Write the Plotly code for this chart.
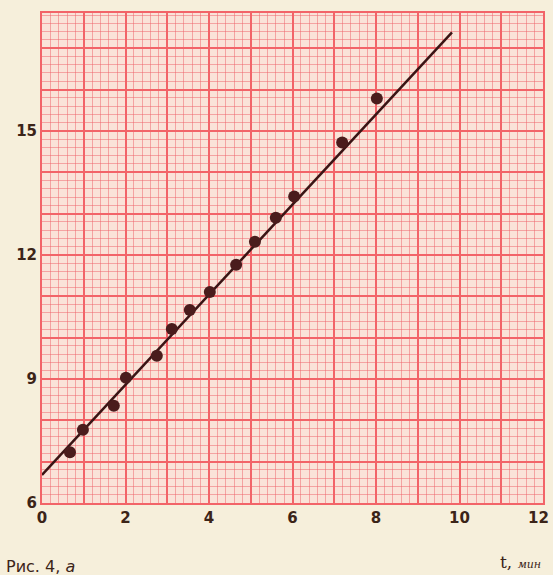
import plotly.graph_objects as go

# data
t_min = [0.67, 0.98, 1.72, 2.01, 2.75, 3.11, 3.54, 4.02, 4.65, 5.10, 5.60, 6.04, 7.19, 8.02]
y_val = [7.23, 7.77, 8.35, 9.03, 9.56, 10.21, 10.67, 11.10, 11.76, 12.32, 12.90, 13.41, 14.72, 15.78]
fit_t = [0.0, 9.82]
fit_y = [6.68, 17.38]

x_ticks = [0, 1, 2, 3, 4, 5, 6, 7, 8, 9, 10, 11, 12]
x_text = ["0", "", "2", "", "4", "", "6", "", "8", "", "10", "", ""]
x_last_label = "12"
y_ticks = [6, 7, 8, 9, 10, 11, 12, 13, 14, 15, 16, 17]
y_text = ["6", "", "", "9", "", "", "12", "", "", "15", "", ""]

major = "#f26468"
minor = "rgba(238,100,105,0.5)"
ink = "#3b2418"
tick_font = dict(size=15, family="DejaVu Sans", color=ink, weight="bold")

fig = go.Figure()
fig.add_trace(go.Scatter(x=fit_t, y=fit_y, mode="lines",
                         line=dict(color="#3a1414", width=2.5), showlegend=False))
fig.add_trace(go.Scatter(x=t_min, y=y_val, mode="markers",
                         marker=dict(color="#4a1c1c", size=12), showlegend=False))

fig.update_layout(
    width=553, height=575,
    margin=dict(l=42, r=8, t=13, b=72),
    paper_bgcolor="#f6efdb",
    plot_bgcolor="#fae3d8",
    font=dict(family="DejaVu Sans", color=ink),
    xaxis=dict(range=[0, 12], tickmode="array", tickvals=x_ticks, ticktext=x_text,
               showgrid=True, gridcolor=major, gridwidth=2,
               minor=dict(dtick=0.2, showgrid=True, gridcolor=minor, gridwidth=1),
               showline=True, linecolor=major, linewidth=2, mirror=True,
               zeroline=False, ticks="", ticklen=0, tickfont=tick_font),
    yaxis=dict(range=[6, 17.85], tickmode="array", tickvals=y_ticks, ticktext=y_text,
               showgrid=True, gridcolor=major, gridwidth=2,
               minor=dict(dtick=0.2, showgrid=True, gridcolor=minor, gridwidth=1),
               showline=True, linecolor=major, linewidth=2, mirror=True,
               zeroline=False, ticks="", ticklen=0, tickfont=tick_font),
    annotations=[
        dict(text=x_last_label, xref="x", yref="paper", x=12, y=-0.0, yshift=-15, xshift=-5,
             xanchor="center", yanchor="middle", showarrow=False, font=tick_font),
        dict(text="Рис. 4, <i>а</i>", xref="paper", yref="paper", x=-0.075, y=-0.13,
             xanchor="left", yanchor="middle", showarrow=False,
             font=dict(size=16, family="DejaVu Sans", color=ink)),
        dict(text="t, <i><span style='font-size:11px'>мин</span></i>", xref="paper", yref="paper",
             x=1.0, y=-0.12, xanchor="right", yanchor="middle", showarrow=False,
             font=dict(size=17, family="DejaVu Serif", color=ink)),
    ],
)

fig.write_html("out.html")
